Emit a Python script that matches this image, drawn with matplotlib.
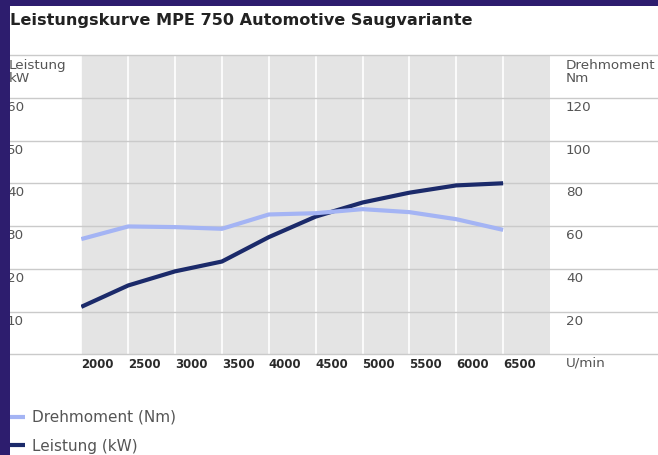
import matplotlib
matplotlib.use("Agg")
import matplotlib.pyplot as plt
from matplotlib.patches import Rectangle
import matplotlib.transforms as mtrans

# ---- data ----
rpm = [2000, 2500, 3000, 3500, 4000, 4500, 5000, 5500, 6000, 6500]
leistung_kw = [11.1, 16.1, 19.4, 21.7, 27.4, 32.2, 35.5, 37.8, 39.5, 40.0]
drehmoment_nm = [53.9, 59.8, 59.5, 58.7, 65.4, 66.0, 67.9, 66.5, 63.2, 58.2]
x_ticks = [2000, 2500, 3000, 3500, 4000, 4500, 5000, 5500, 6000, 6500]
kw_ticks = [10, 20, 30, 40, 50, 60]
nm_ticks = [20, 40, 60, 80, 100, 120]
title = "Leistungskurve MPE 750 Automotive Saugvariante"
label_kw = "Leistung (kW)"
label_nm = "Drehmoment (Nm)"

W, H = 658, 455
PURPLE = "#2d1d6e"
DARK = "#1b2a6a"
LIGHT = "#a4b4f4"
TXT = "#555555"
GRID = "#cacaca"

fig = plt.figure(figsize=(W / 100, H / 100), dpi=100, facecolor="white")

L, R, T, B = 81.3, 550, 55, 354.3
ax = fig.add_axes([L / W, 1 - B / H, (R - L) / W, (B - T) / H])
ax.set_facecolor("#e4e4e4")
ax.set_xlim(2000, 7000)
ax.set_ylim(0, 70)
for s in ax.spines.values():
    s.set_visible(False)
ax.set_xticks(x_ticks)
ax.set_xticklabels([str(t) for t in x_ticks], fontweight="bold", fontsize=8.5,
                   color="#2a2a2a", ha="left")
ax.tick_params(axis="x", length=0, pad=3)
ax.tick_params(axis="y", left=False, labelleft=False)
ax.set_yticks([])
ax.grid(axis="x", color="white", lw=1.2)
ax.set_axisbelow(True)

xmin = (10 - L) / (R - L)
xmax = (W - L) / (R - L)
for v in [0] + kw_ticks + [70]:
    ax.axhline(v, xmin=xmin, xmax=xmax, clip_on=False, color=GRID, lw=1, zorder=1)

ax.plot(rpm, leistung_kw, color=DARK, lw=3, solid_capstyle="butt", zorder=3)

ax2 = ax.twinx()
ax2.set_ylim(0, 140)
ax2.set_facecolor("none")
for s in ax2.spines.values():
    s.set_visible(False)
ax2.set_yticks([])
ax2.plot(rpm, drehmoment_nm, color=LIGHT, lw=3, solid_capstyle="butt", zorder=3)

# left tick labels
tl = mtrans.offset_copy(mtrans.blended_transform_factory(fig.transFigure, ax.transData),
                        fig=fig, y=-3, units="dots")
for v in kw_ticks:
    ax.text(7 / W, v, str(v), transform=tl, va="top", ha="left", fontsize=9.7,
            color=TXT, clip_on=False)
tr = mtrans.offset_copy(mtrans.blended_transform_factory(fig.transFigure, ax2.transData),
                        fig=fig, y=-3, units="dots")
for v in nm_ticks:
    ax2.text(566 / W, v, str(v), transform=tr, va="top", ha="left", fontsize=9.7,
             color=TXT, clip_on=False)

fig.text(9 / W, 1 - 59 / H, "Leistung\nkW", va="top", ha="left", fontsize=9.7,
         color=TXT, linespacing=1.0)
fig.text(566 / W, 1 - 59 / H, "Drehmoment\nNm", va="top", ha="left", fontsize=9.7,
         color=TXT, linespacing=1.0)
fig.text(566 / W, 1 - 357 / H, "U/min", va="top", ha="left", fontsize=9.7, color=TXT)
fig.text(10 / W, 1 - 21 / H, title, va="center", ha="left", fontsize=11.6,
         fontweight="bold", color="#222222")

lines = ax2.get_lines() + ax.get_lines()[-1:]
fig.legend([lines[0], lines[1]], [label_nm, label_kw], loc="upper left",
           bbox_to_anchor=(10 / W, 1 - 410 / H), frameon=False, handlelength=1.0,
           handletextpad=0.45, labelspacing=0.9, borderaxespad=0, borderpad=0,
           fontsize=11, labelcolor=TXT)

# purple border on top
fig.add_artist(Rectangle((0, 0), 10 / W, 1, transform=fig.transFigure,
                         facecolor=PURPLE, edgecolor="none", zorder=20))
fig.add_artist(Rectangle((0, 1 - 6 / H), 1, 6 / H, transform=fig.transFigure,
                         facecolor=PURPLE, edgecolor="none", zorder=20))

fig.savefig("out.png", dpi=100, facecolor="white")
